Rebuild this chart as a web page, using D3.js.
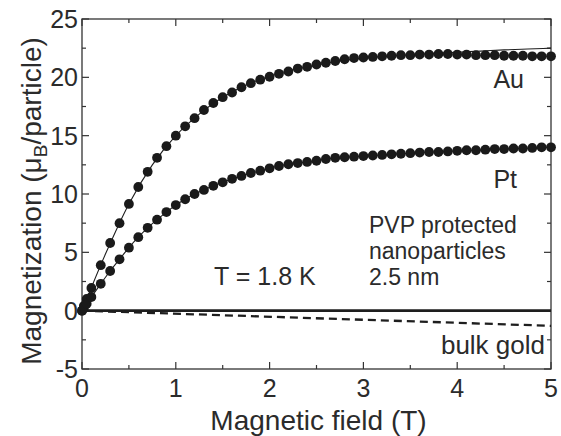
<!DOCTYPE html>
<html><head><meta charset="utf-8">
<script src="https://cdn.jsdelivr.net/npm/d3@7"></script>
<style>body{margin:0;background:#fff}svg{display:block}text{font-family:"Liberation Sans",Arial,sans-serif;fill:#2b2b2b}</style>
</head><body>
<script>
const fieldH = [0,0.02,0.05,0.1,0.2,0.3,0.4,0.5,0.6,0.7,0.8,0.9,1.0,1.1,1.2,1.3,1.4,1.5,1.6,1.7,1.8,1.9,2.0,2.1,2.2,2.3,2.4,2.5,2.6,2.7,2.8,2.9,3.0,3.1,3.2,3.3,3.4,3.5,3.6,3.7,3.8,3.9,4.0,4.1,4.2,4.3,4.4,4.5,4.6,4.7,4.8,4.9,5.0];
const auM = [0,0.4,1.0,1.95,3.9,5.8,7.5,9.15,10.6,11.9,13.1,14.1,15.0,15.8,16.5,17.2,17.8,18.3,18.7,19.15,19.5,19.8,20.05,20.3,20.5,20.75,20.9,21.1,21.25,21.4,21.55,21.65,21.7,21.75,21.8,21.85,21.9,21.9,21.95,21.95,22.0,22.0,21.95,21.95,21.9,21.9,21.9,21.85,21.85,21.85,21.8,21.8,21.8];
const ptM = [0,0.25,0.6,1.17,2.3,3.4,4.4,5.4,6.3,7.1,7.8,8.45,9.05,9.55,10.0,10.35,10.7,11.0,11.3,11.55,11.8,12.0,12.2,12.4,12.55,12.65,12.75,12.85,13.0,13.1,13.15,13.2,13.25,13.3,13.35,13.4,13.45,13.5,13.55,13.6,13.6,13.65,13.7,13.75,13.75,13.8,13.85,13.85,13.9,13.9,13.95,14.0,14.0];
const fitH = [0,0.25,0.5,0.75,1.0,1.25,1.5,1.75,2.0,2.25,2.5,2.75,3.0,3.25,3.5,3.75,4.0,4.25,4.5,4.75,5.0];
const auFitM = [0,4.85,9.15,12.5,15.0,16.85,18.3,19.35,20.1,20.65,21.05,21.4,21.65,21.8,21.95,22.05,22.15,22.25,22.35,22.43,22.5];
const bulkH = [0,5];
const bulkM = [0,-1.3];
const zeroM = [0,0];
const xTicks = [0,1,2,3,4,5];
const yTicks = [-5,0,5,10,15,20,25];

const W=561,H=436, L=82,R=551,T=19,B=369;
const svg=d3.select("body").append("svg").attr("width",W).attr("height",H);
const x=d3.scaleLinear().domain([0,5]).range([L,R]);
const y=d3.scaleLinear().domain([-5,25]).range([B,T]);
const ink="#1e1e1e";

svg.append("rect").attr("x",L).attr("y",T).attr("width",R-L).attr("height",B-T).attr("fill","none").attr("stroke","#333").attr("stroke-width",1.3);

const xMinor=d3.range(0,5.01,0.5), yMinor=d3.range(-5,25.01,2.5);
const tk=svg.append("g").attr("stroke","#333").attr("stroke-width",1.2);
xMinor.forEach(v=>{const len=xTicks.includes(v)?7:4;
  tk.append("line").attr("x1",x(v)).attr("x2",x(v)).attr("y1",B).attr("y2",B-len);
  tk.append("line").attr("x1",x(v)).attr("x2",x(v)).attr("y1",T).attr("y2",T+len);});
yMinor.forEach(v=>{const len=yTicks.includes(v)?7:4;
  tk.append("line").attr("y1",y(v)).attr("y2",y(v)).attr("x1",L).attr("x2",L+len);
  tk.append("line").attr("y1",y(v)).attr("y2",y(v)).attr("x1",R).attr("x2",R-len);});

svg.append("g").selectAll("text").data(xTicks).join("text").attr("x",d=>x(d)).attr("y",B+28).attr("text-anchor","middle").attr("font-size",25).text(d=>d);
svg.append("g").selectAll("text").data(yTicks).join("text").attr("x",L-4).attr("y",d=>y(d)+9).attr("text-anchor","end").attr("font-size",25).text(d=>d);

svg.append("text").attr("x",(L+R)/2+2).attr("y",430).attr("text-anchor","middle").attr("font-size",28).text("Magnetic field (T)");
const yl=svg.append("text").attr("transform",`translate(41,201) rotate(-90)`).attr("text-anchor","middle").attr("font-size",28);
yl.append("tspan").text("Magnetization (\u03bc");
yl.append("tspan").attr("font-size",19).attr("dy",6).text("B");
yl.append("tspan").attr("dy",-6).text("/particle)");

const line=d3.line().x(d=>x(d[0])).y(d=>y(d[1]));
svg.append("path").attr("d",line(d3.zip(bulkH,zeroM))).attr("stroke",ink).attr("stroke-width",2.8).attr("fill","none");
svg.append("path").attr("d",line(d3.zip(bulkH,bulkM))).attr("stroke",ink).attr("stroke-width",2.3).attr("stroke-dasharray","8,5").attr("fill","none");

const cl=d3.line().x(d=>x(d[0])).y(d=>y(d[1])).curve(d3.curveMonotoneX);
svg.append("path").attr("d",cl(d3.zip(fitH,auFitM))).attr("stroke",ink).attr("stroke-width",1.1).attr("fill","none");
svg.append("path").attr("d",cl(d3.zip(fieldH,ptM))).attr("stroke",ink).attr("stroke-width",1.1).attr("fill","none");

[auM,ptM].forEach(s=>{
  svg.append("g").selectAll("circle").data(d3.zip(fieldH,s)).join("circle")
   .attr("cx",d=>x(d[0])).attr("cy",d=>y(d[1])).attr("r",4.9).attr("fill","#1a1a1a");
});

const ann=(t,xx,yy,fs,anchor)=>svg.append("text").attr("x",xx).attr("y",yy).attr("font-size",fs).attr("text-anchor",anchor||"start").text(t);
ann("Au",524,88,25,"end");
ann("Pt",517,188,25,"end");
ann("PVP protected",369,233,23);
ann("nanoparticles",369,259,23);
ann("2.5 nm",369,285,23);
ann("T = 1.8 K",214,285,25);
ann("bulk gold",545,354,26,"end");
</script>
</body></html>
